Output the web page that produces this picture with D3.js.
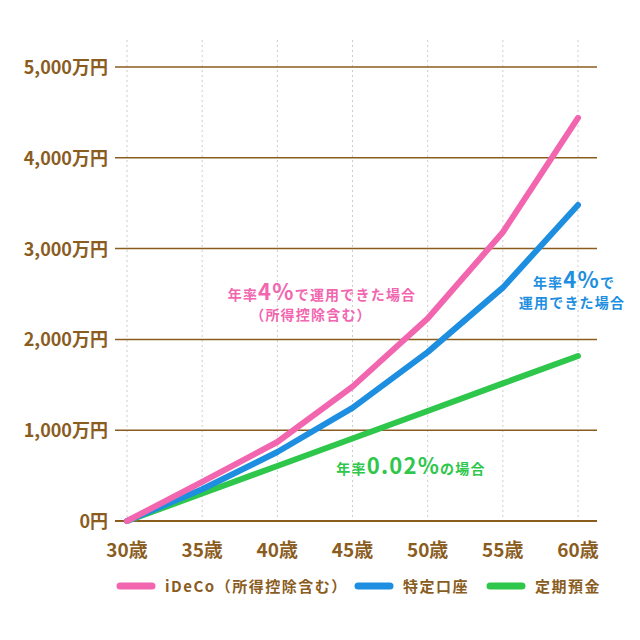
<!DOCTYPE html>
<html><head><meta charset="utf-8">
<script src="https://cdn.jsdelivr.net/npm/d3@7"></script>
<style>body{margin:0;background:#fff}text{font-family:"Noto Sans CJK JP";font-weight:700}</style>
</head><body><svg width="640" height="640"></svg>
<script>
const ages=[30,35,40,45,50,55,60];
const ideco=[0,430,870,1480,2230,3180,4440];
const tokutei=[0,350,760,1245,1860,2570,3480];
const teiki=[0,303,606,909,1212,1515,1817];
const yTicks=[0,1000,2000,3000,4000,5000];
const yLabels=["0円","1,000万円","2,000万円","3,000万円","4,000万円","5,000万円"];
const seriesNames=["iDeCo（所得控除含む）","特定口座","定期預金"];
const colors=["#f266b0","#1e8fe0","#2ec74b"];
const brown="#8a5d1f";
const svg=d3.select("svg");
const x=d3.scaleLinear().domain([30,60]).range([127,578]);
const y=d3.scaleLinear().domain([0,5000]).range([521,67]);
svg.selectAll(".v").data(ages).join("line").attr("x1",d=>x(d)).attr("x2",d=>x(d)).attr("y1",40).attr("y2",521)
 .attr("stroke","#ccc").attr("stroke-dasharray","2,3");
svg.selectAll(".h").data(yTicks).join("line").attr("x1",115).attr("x2",597).attr("y1",d=>y(d)).attr("y2",d=>y(d))
 .attr("stroke",brown).attr("stroke-width",d=>d===0?2:1.5);
svg.selectAll(".yl").data(yTicks).join("text").attr("x",108).attr("y",d=>y(d)+7).attr("text-anchor","end")
 .attr("fill",brown).attr("font-size",18).text((d,i)=>yLabels[i]);
svg.selectAll(".xl").data(ages).join("text").attr("x",d=>x(d)).attr("y",557).attr("text-anchor","middle")
 .attr("fill",brown).attr("font-size",19).text(d=>d+"歳");
const line=d3.line().x((d,i)=>x(ages[i])).y(d=>y(d));
[teiki,tokutei,ideco].forEach((s,k)=>{
 svg.append("path").attr("d",line(s)).attr("fill","none").attr("stroke",colors[2-k]).attr("stroke-width",6).attr("stroke-linecap","round").attr("stroke-linejoin","round");
});
function ann(xp,yp,parts,col){
 const t=svg.append("text").attr("x",xp).attr("y",yp).attr("fill",col).attr("text-anchor","middle").attr("font-size",14).attr("letter-spacing",1.2);
 parts.forEach(p=>t.append("tspan").attr("font-size",p[1]).text(p[0]));
}
ann(322,300,[["年率",14],["4%",22],["で運用できた場合",14]],colors[0]);
ann(311,320,[["（所得控除含む）",14]],colors[0]);
ann(574,288,[["年率",14],["4%",22],["で",14]],colors[1]);
ann(572,308,[["運用できた場合",14]],colors[1]);
ann(411,474,[["年率",14],["0.02%",22],["の場合",14]],colors[2]);
const lx=[120,358,490];
seriesNames.forEach((n,i)=>{
 svg.append("line").attr("x1",lx[i]).attr("x2",lx[i]+32).attr("y1",586).attr("y2",586).attr("stroke",colors[i]).attr("stroke-width",7).attr("stroke-linecap","round");
 svg.append("text").attr("x",lx[i]+45).attr("y",592).attr("fill",brown).attr("font-size",15).attr("letter-spacing",1.5).text(n);
});
</script></body></html>
